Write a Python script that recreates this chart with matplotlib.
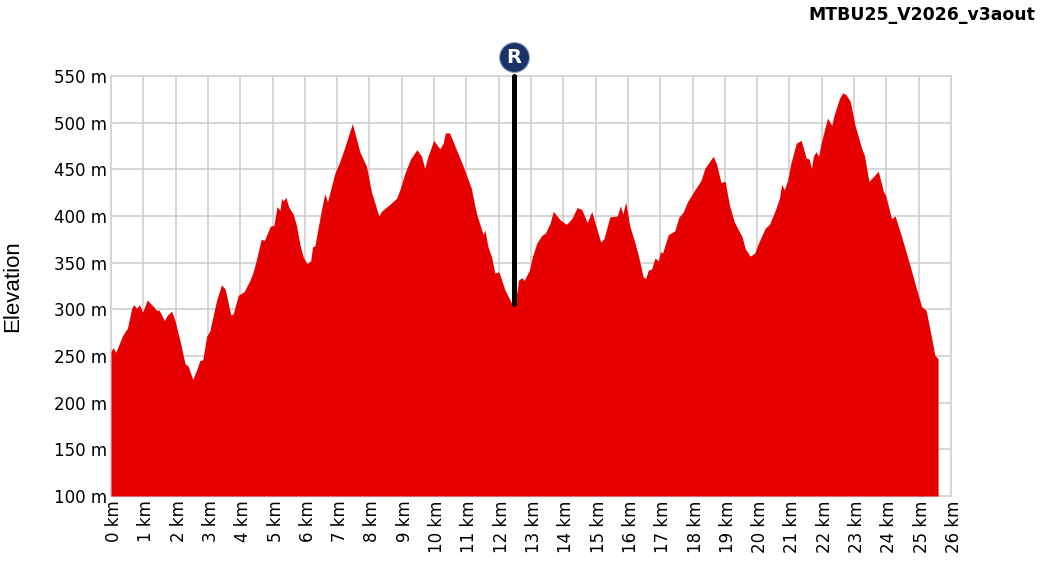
"""Elevation profile of the MTBU25 route."""
from matplotlib import pyplot as plt
from matplotlib.transforms import ScaledTranslation, blended_transform_factory

km = [0, .07, .15, .36, .51, .64, .71, .79, .88, .98, 1.12, 1.31, 1.41, 1.49, 1.65, 1.75, 1.88, 1.98,
      2.13, 2.29, 2.39, 2.53, 2.65, 2.75, 2.84, 2.96, 3.06, 3.27, 3.42, 3.53, 3.71, 3.78, 3.94, 4.12,
      4.3, 4.4, 4.5, 4.65, 4.75, 4.93, 5.04, 5.14, 5.23, 5.28, 5.33, 5.41, 5.51, 5.64, 5.74, 5.85, 5.95,
      6.07, 6.18, 6.24, 6.31, 6.52, 6.62, 6.70, 6.93, 7.08, 7.24, 7.47, 7.70, 7.91, 8.06, 8.29, 8.37,
      8.58, 8.84, 8.94, 9.10, 9.27, 9.47, 9.61, 9.71, 9.81, 9.99, 10.18, 10.28, 10.35, 10.48, 10.74,
      10.95, 11.15, 11.31, 11.52, 11.57, 11.67, 11.78, 11.88, 12.01, 12.19, 12.39, 12.45, 12.58, 12.61,
      12.71, 12.79, 12.95, 13.04, 13.18, 13.33, 13.45, 13.59, 13.69, 13.90, 14.10, 14.26, 14.43, 14.57,
      14.74, 14.88, 15.03, 15.16, 15.26, 15.44, 15.67, 15.77, 15.84, 15.93, 16.06, 16.22, 16.32, 16.47,
      16.55, 16.63, 16.73, 16.84, 16.94, 17.01, 17.07, 17.25, 17.45, 17.58, 17.71, 17.84, 18.07, 18.26,
      18.38, 18.64, 18.74, 18.88, 19.01, 19.14, 19.29, 19.42, 19.53, 19.63, 19.78, 19.92, 20.04, 20.25,
      20.38, 20.56, 20.69, 20.76, 20.84, 20.95, 21.04, 21.21, 21.36, 21.52, 21.61, 21.68, 21.74, 21.82,
      21.90, 22.00, 22.18, 22.31, 22.38, 22.55, 22.65, 22.75, 22.88, 23.03, 23.24, 23.32, 23.46, 23.75,
      23.91, 23.98, 24.16, 24.27, 24.37, 24.47, 24.73, 24.94, 25.09, 25.23, 25.35, 25.50, 25.60]
elevation = [255, 259, 254, 272, 280, 301, 305, 301, 305, 297, 310, 303, 299, 299, 288, 294, 298, 288,
             267, 242, 239, 225, 235, 245, 246, 271, 277, 310, 326, 322, 294, 295, 315, 319,
             331, 340, 353, 375, 374, 389, 390, 410, 406, 419, 416, 420, 409, 402, 390, 369, 356,
             349, 352, 367, 368, 408, 424, 415, 446, 458, 474, 499, 469, 453, 426, 400, 405,
             411, 419, 428, 446, 461, 471, 464, 451, 464, 481, 472, 478, 489, 489, 467,
             449, 430, 403, 380, 385, 367, 356, 339, 340, 321, 307, 304, 321, 331,
             334, 331, 342, 356, 371, 379, 382, 392, 405, 396, 391, 397, 409, 407,
             393, 405, 387, 372, 376, 399, 400, 411, 402, 415, 389, 371, 358, 335,
             333, 342, 343, 355, 352, 362, 360, 380, 384, 399, 404, 415, 428, 438,
             451, 464, 456, 436, 437, 412, 394, 385, 378, 365, 357, 360, 371, 387,
             391, 406, 419, 434, 428, 439, 456, 478, 481, 462, 461, 451, 464, 469,
             464, 481, 505, 497, 508, 526, 532, 530, 523, 497, 472, 465, 437, 448,
             426, 422, 397, 400, 389, 378, 347, 321, 303, 299, 278, 251, 247]

y_ticks = [100, 150, 200, 250, 300, 350, 400, 450, 500, 550]
x_ticks = list(range(0, 27))
marker_km = 12.48
marker_elevation = 306

fig = plt.figure(figsize=(10.41, 5.71), dpi=100)
ax = fig.add_axes([111 / 1041, 1 - 496 / 571, 840 / 1041, 420 / 571])

ax.fill_between(km, elevation, 100, color='#e60000', linewidth=0, zorder=3)
ax.set_xlim(0, 26)
ax.set_ylim(100, 550)

ax.set_xticks(x_ticks)
ax.set_xticklabels(['{} km'.format(k) for k in x_ticks], rotation=90, fontsize=12)
ax.set_yticks(y_ticks)
ax.set_yticklabels(['{} m'.format(e) for e in y_ticks], fontsize=12)
ax.tick_params(length=0, pad=3)
# the x labels sit slightly right of their grid lines
shift = ScaledTranslation(3 / 100, 0, fig.dpi_scale_trans)
for label in ax.get_xticklabels():
    label.set_transform(label.get_transform() + shift)
ax.grid(True, color='#cccccc', linewidth=1.1, zorder=1)
ax.set_axisbelow(True)
for spine in ax.spines.values():
    spine.set_color('#d6d6d6')
    spine.set_linewidth(1.5)

# Marker pole and the round "R" badge above the plot area
ax.plot([marker_km, marker_km], [marker_elevation, 550], color='black', linewidth=3.6,
        solid_capstyle='round', zorder=5, clip_on=False)
badge = blended_transform_factory(ax.transData, ax.transAxes)
ax.plot([marker_km], [1.045], 'o', transform=badge, markersize=21.5, color='#1a3268',
        markeredgecolor='#8fa0bd', markeredgewidth=0.8, clip_on=False, zorder=6)
ax.text(marker_km, 1.0445, 'R', transform=badge, color='white', fontsize=14, fontweight='bold',
        ha='center', va='center', zorder=7)

fig.text(23 / 1041, 1 - 286 / 571, 'Elevation', rotation=90, fontsize=16, ha='right', va='center',
         family='Liberation Sans')
fig.text(1035 / 1041, 1 - 15 / 571, 'MTBU25_V2026_v3aout', fontsize=12.4, fontweight='bold',
         ha='right', va='center')

plt.savefig('out.png', dpi=100)
